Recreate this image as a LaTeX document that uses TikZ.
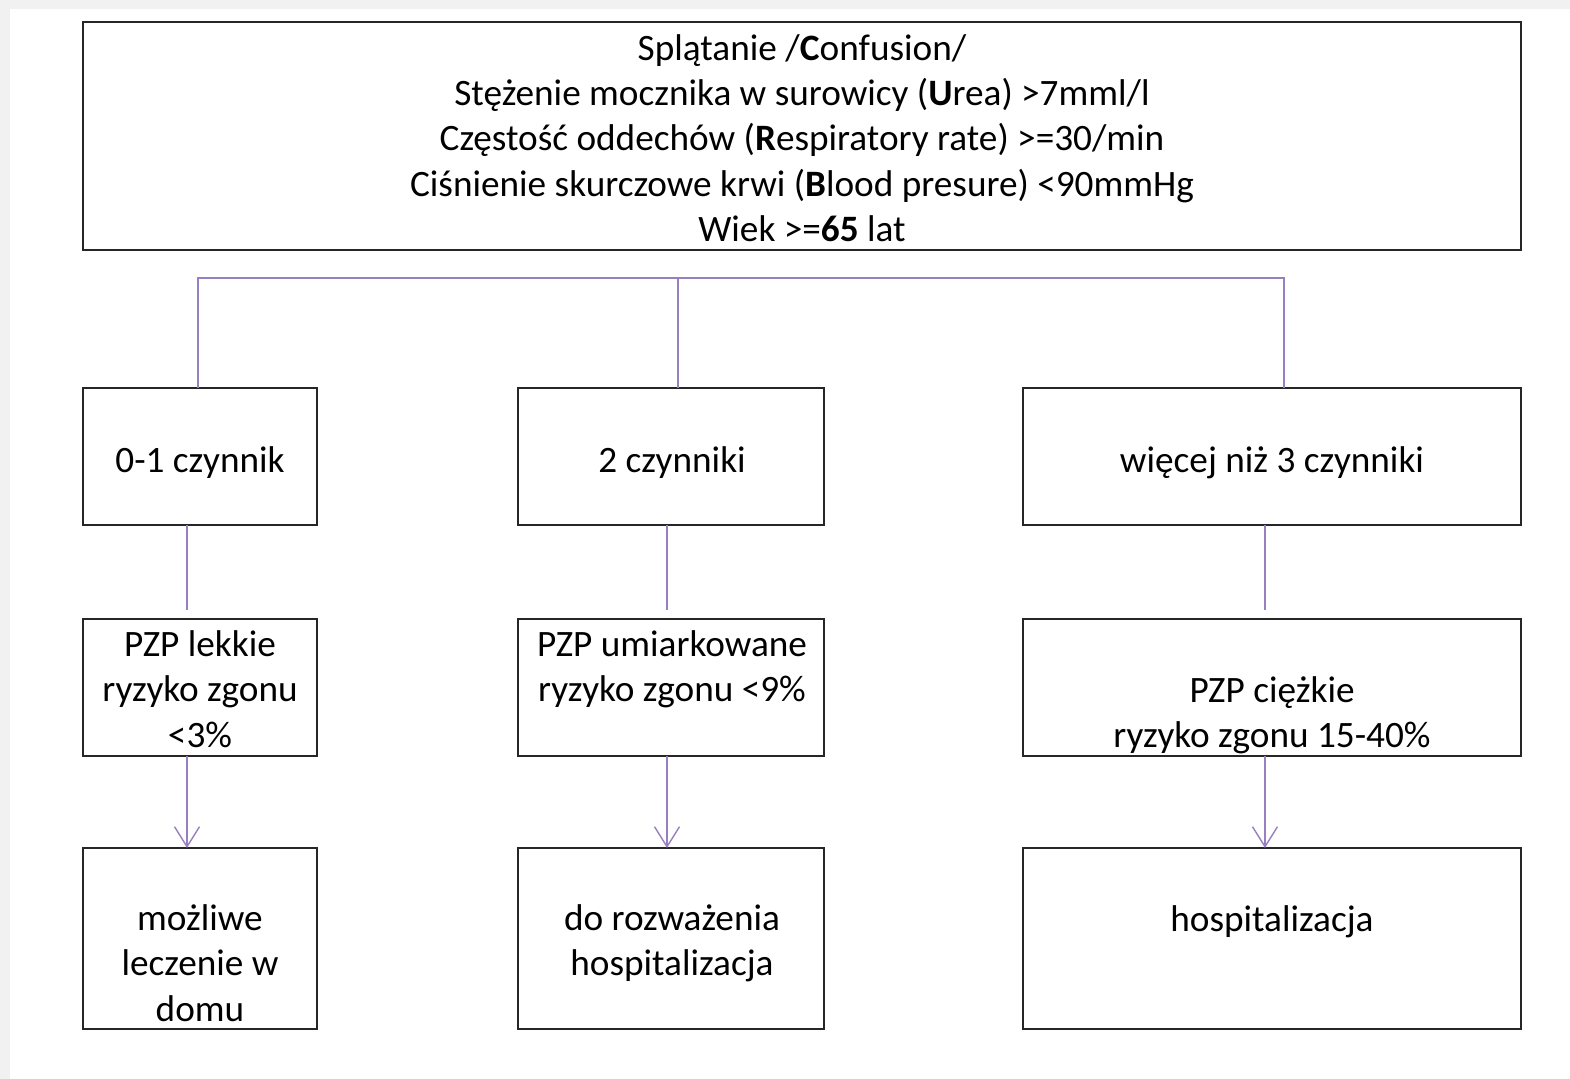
\documentclass[tikz,border=0pt]{standalone}
\usepackage{fontspec}
\setmainfont{Carlito}
\usetikzlibrary{arrows.meta}
\definecolor{linkpurple}{RGB}{152,128,192}
\definecolor{pagegray}{RGB}{241,241,241}

\begin{document}
\begin{tikzpicture}[
    x=0.02cm, y=-0.02cm,
    every node/.style={font=\fontsize{21.2}{25.8}\selectfont},
    box/.style={rectangle,draw=black!85,line width=1.1pt,inner sep=0pt,outer sep=0pt},
    txt/.style={align=center,inner sep=0pt},
    link/.style={draw=linkpurple,line width=0.9pt},
    arr/.style={link,-{Straight Barb[length=0.4cm,width=0.5cm,line width=0.8pt]}}
  ]
    \useasboundingbox (0,0) rectangle (1570,1079);
    \fill[white] (0,0) rectangle (1570,1079);
    \fill[pagegray] (0,0) rectangle (1570,9);
    \fill[pagegray] (0,0) rectangle (10,1079);

    % criteria box
    \node[box,minimum width=28.76cm,minimum height=4.56cm] (curb) at (802,136) {};
    \node[txt] (curbt) at (802,138) {Splątanie /\textbf{C}onfusion/\\
      Stężenie mocznika w surowicy (\textbf{U}rea) >7mml/l\\
      Częstość oddechów (\textbf{R}espiratory rate) >=30/min\\
      Ciśnienie skurczowe krwi (\textbf{B}lood presure) <90mmHg\\
      Wiek >=\textbf{65} lat};

    % number of factors
    \node[box,minimum width=4.68cm,minimum height=2.74cm] (a1) at (200,456.5) {};
    \node[box,minimum width=6.12cm,minimum height=2.74cm] (b1) at (671,456.5) {};
    \node[box,minimum width=9.96cm,minimum height=2.74cm] (c1) at (1272,456.5) {};
    \node[txt] (a1t) at (200,463) {0-1 czynnik};
    \node[txt] (b1t) at (672,463) {2 czynniki};
    \node[txt] (c1t) at (1272,463) {więcej niż 3 czynniki};

    % severity
    \node[box,minimum width=4.68cm,minimum height=2.74cm] (a2) at (200,687.5) {};
    \node[box,minimum width=6.12cm,minimum height=2.74cm] (b2) at (671,687.5) {};
    \node[box,minimum width=9.96cm,minimum height=2.74cm] (c2) at (1272,687.5) {};
    \node[txt] (a2t) at (200,689) {PZP lekkie\\ryzyko zgonu\\<3\%};
    \node[txt] (b2t) at (672,669) {PZP umiarkowane\\ryzyko zgonu <9\%};
    \node[txt] (c2t) at (1272,715) {PZP ciężkie\\ryzyko zgonu 15-40\%};

    % management
    \node[box,minimum width=4.68cm,minimum height=3.62cm] (a3) at (200,938.5) {};
    \node[box,minimum width=6.12cm,minimum height=3.62cm] (b3) at (671,938.5) {};
    \node[box,minimum width=9.96cm,minimum height=3.62cm] (c3) at (1272,938.5) {};
    \node[txt] (a3t) at (200,963) {możliwe\\leczenie w\\domu};
    \node[txt] (b3t) at (672,943) {do rozważenia\\hospitalizacja};
    \node[txt] (c3t) at (1272,922) {hospitalizacja};

    % connectors
    \coordinate (bus) at (0,278);
    \draw[link] ([xshift=-0.04cm]a1.north) -- ([xshift=-0.04cm]a1.north |- bus)
      -| ([xshift=0.24cm]c1.north);
    \draw[link] ([xshift=0.14cm]b1.north) -- ([xshift=0.14cm]b1.north |- bus);

    \foreach \col/\dx in {a/-0.26,b/-0.08,c/-0.14}{
      \draw[link] ([xshift=\dx cm]\col1.south) -- ([xshift=\dx cm,yshift=0.18cm]\col2.north);
      \draw[arr] ([xshift=\dx cm]\col2.south) -- ([xshift=\dx cm]\col3.north);
    }
  \end{tikzpicture}
\end{document}
